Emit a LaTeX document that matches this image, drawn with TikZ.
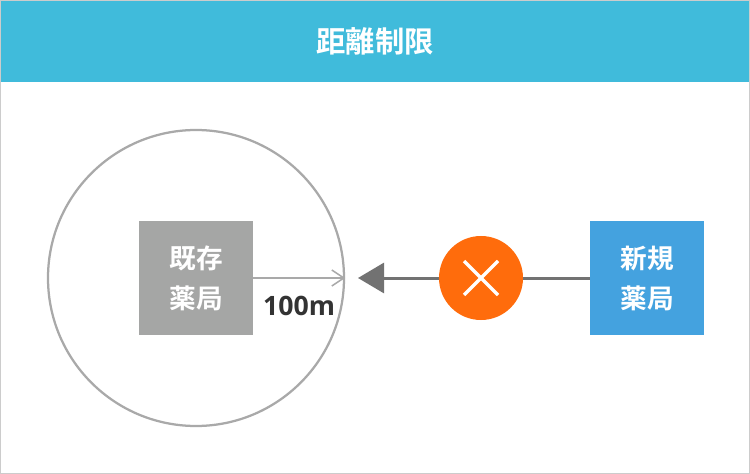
\documentclass[tikz,border=0pt]{standalone}
\usepackage{fontspec}
\setmainfont{Open Sans}
\newfontfamily\cjk{Noto Sans CJK JP}[BoldFont={* Bold}]
\usetikzlibrary{arrows.meta}
\definecolor{headblue}{HTML}{40BBDB}
\definecolor{framegray}{HTML}{CCCCCC}
\definecolor{ringgray}{HTML}{A9A9A9}
\definecolor{boxgray}{HTML}{A5A6A5}
\definecolor{boxblue}{HTML}{44A2DF}
\definecolor{crossorange}{HTML}{FF6C0C}
\definecolor{linegray}{HTML}{727272}
\definecolor{textdark}{HTML}{333333}
\tikzset{
 pharmacy/.style={minimum width=114\pxu,minimum height=114\pxu,inner sep=0pt,text=white,align=center,font=\cjk\bfseries\fontsize{20pt}{30pt}\selectfont},
}
\newlength{\pxu}
\setlength{\pxu}{0.75pt}
\tikzset{
 pharmacy/.style={minimum width=114*0.75pt,minimum height=114*0.75pt,inner sep=0pt,text=white,align=center,font=\cjk\bfseries\fontsize{20pt}{30pt}\selectfont},
}
\begin{document}
\begin{tikzpicture}[x=0.75pt,y=-0.75pt]
\useasboundingbox (0,0) rectangle (750,474);
\fill[white] (0,0) rectangle (750,474);
\fill[headblue] (1,1) rectangle (749,82);
\draw[framegray,line width=0.75pt] (0.5,0.5) rectangle (749.5,473.5);
\node[text=white,font=\cjk\bfseries\fontsize{22pt}{26pt}\selectfont,inner sep=0pt] (title) at (375,41) {距離制限};
\node[draw=ringgray,line width=2.25*0.75pt,circle,minimum size=296*0.75pt,inner sep=0pt] (ring) at (196,278) {};
\node[pharmacy,fill=boxgray] (old) at (196,278) {既存\\薬局};
\node[pharmacy,fill=boxblue] (new) at (647,278) {新規\\薬局};
\coordinate (edge) at (ring.east);
\coordinate (tipend) at (358,278);
\node[circle,fill=crossorange,minimum size=84*0.75pt,inner sep=0pt] (stop) at (481,278) {};
\draw[ringgray,line width=1.5pt,-{Straight Barb[length=9pt,width=12pt,line width=1.1pt]}] (old.east) -- (edge);
\draw[linegray,line width=2.25pt] (new.west) -- (stop.east);
\draw[linegray,line width=2.25pt,-{Triangle[length=19.5pt,width=22.5pt]}] (stop.west) -- (tipend);
\draw[white,line width=2.6pt] (stop.center) ++(-17,-17) -- ++(34,34);
\draw[white,line width=2.6pt] (stop.center) ++(17,-17) -- ++(-34,34);
\node[text=textdark,font=\bfseries\fontsize{20pt}{24pt}\selectfont,inner sep=0pt] (dist) at (299,306) {100m};
\end{tikzpicture}
\end{document}
